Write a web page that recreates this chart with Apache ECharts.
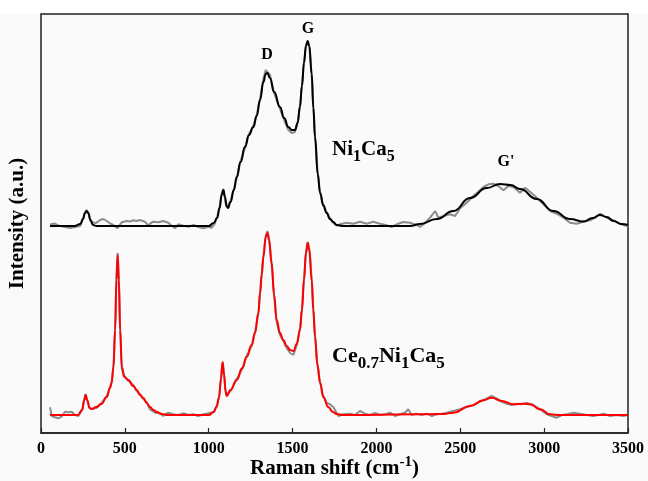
<!DOCTYPE html>
<html>
<head>
<meta charset="utf-8">
<script src="https://cdn.jsdelivr.net/npm/echarts@6/dist/echarts.min.js"></script>
<style>
  html, body { margin: 0; padding: 0; background: #fafafa; }
  #chart { width: 648px; height: 481px; }
</style>
</head>
<body>
<div id="chart"></div>
<script>
// Raman spectra of two catalysts, stacked vertically (raw scan in grey, fitted curve on top)

// x-axis ticks
const shiftTicks = [0, 500, 1000, 1500, 2000, 2500, 3000, 3500];

// Ni1Ca5 — fitted curve
const niFitShift = [54, 200, 235, 250, 262, 272, 282, 295, 310, 330, 1000, 1030, 1050, 1065, 1077, 1087, 1097, 1106, 1115, 1130, 1150, 1167, 1190, 1216, 1240, 1266, 1286, 1306, 1326, 1340, 1350, 1365, 1390, 1425, 1450, 1475, 1495, 1514, 1530, 1544, 1556, 1568, 1580, 1590, 1600, 1614, 1624, 1634, 1650, 1664, 1683, 1703, 1723, 1743, 1763, 1800, 2200, 2260, 2360, 2459, 2558, 2658, 2737, 2800, 2856, 2956, 3055, 3154, 3234, 3290, 3333, 3373, 3413, 3460, 3500];
const niFit = [0, 0, 2, 7, 13, 15, 13, 6, 1, 0, 0, 3, 8, 18, 31, 36, 29, 20, 18, 24, 36, 49, 64, 79, 91, 99, 110, 126, 144, 152, 153, 148, 134, 119, 108, 99, 96, 96, 103, 119, 140, 163, 180, 185, 180, 152, 118, 89, 52, 33, 21, 13, 7, 4, 1, 0, 0, 2, 7, 15, 28, 38, 42, 41, 37, 27, 15, 7, 4.5, 8, 11, 9, 5, 2, 1];

// Ni1Ca5 — measured scan
const niRawShift = [54, 64, 83, 103, 113, 143, 173, 203, 233, 250, 262, 272, 282, 295, 322, 337, 352, 372, 392, 411, 431, 455, 481, 511, 530, 551, 570, 590, 620, 640, 655, 670, 700, 729, 759, 779, 799, 819, 849, 879, 909, 938, 968, 998, 1018, 1035, 1050, 1065, 1077, 1087, 1097, 1106, 1115, 1130, 1150, 1167, 1190, 1216, 1240, 1266, 1286, 1306, 1326, 1340, 1350, 1365, 1390, 1425, 1450, 1475, 1495, 1514, 1530, 1544, 1556, 1568, 1580, 1590, 1600, 1614, 1624, 1634, 1650, 1664, 1683, 1703, 1723, 1743, 1763, 1783, 1823, 1862, 1902, 1942, 1982, 2021, 2061, 2091, 2121, 2161, 2200, 2240, 2260, 2290, 2320, 2350, 2370, 2400, 2439, 2469, 2499, 2538, 2578, 2608, 2638, 2668, 2698, 2727, 2757, 2787, 2817, 2856, 2886, 2916, 2956, 2996, 3035, 3075, 3115, 3154, 3194, 3234, 3274, 3304, 3333, 3373, 3413, 3453, 3492, 3500];
const niRaw = [1.5, 0.5, 2.5, 0.5, 0, -1, -2, -1, 0, 7, 13, 16, 13, 5, 2.7, 4, 6, 7, 5, 2.7, 1, -2.3, 3.7, 5, 4.5, 5.7, 5, 6, 4.3, 0.3, 3, 4.3, 3.7, 5, 3.3, 0.3, -2.3, 1.7, 0.3, -0.7, 1, -1, -2.3, -0.7, -1.7, 2, 9, 19, 32, 37, 28, 19, 17, 25, 37, 48, 65, 78, 92, 100, 111, 127, 147, 156, 158, 151, 133, 117, 106, 96, 93, 94, 103, 120, 141, 164, 181, 184, 179, 151, 118, 88, 53, 34, 20, 14, 8, 3, 0.5, 1.7, 3.3, 2.3, 4.3, 2.3, 4.3, 2.3, 0.7, -1, 1.7, 4, 3.3, 1, -1, 3.3, 8.3, 15, 8.3, 10, 11.7, 10, 17.7, 23.3, 30, 34.3, 39, 41.7, 42.3, 40, 35.7, 40, 39, 33.3, 38.3, 34.3, 28.3, 21.7, 15, 12.3, 8.3, 3.3, 2.3, 4.3, 5.7, 8.3, 12.3, 8.3, 5.7, 2.3, 0, 0];

// Ce0.7Ni1Ca5 — fitted curve
const ceFitShift = [54, 220, 245, 258, 266, 275, 290, 302, 330, 360, 392, 411, 421, 432, 442, 450, 457, 464, 472, 482, 497, 521, 550, 571, 590, 610, 630, 650, 670, 690, 720, 760, 1000, 1030, 1047, 1062, 1072, 1083, 1092, 1100, 1107, 1130, 1167, 1200, 1226, 1256, 1276, 1296, 1306, 1316, 1326, 1340, 1350, 1360, 1375, 1390, 1405, 1425, 1445, 1465, 1485, 1505, 1525, 1544, 1556, 1568, 1580, 1590, 1600, 1614, 1624, 1634, 1648, 1664, 1683, 1713, 1740, 1763, 1800, 2400, 2459, 2558, 2638, 2687, 2747, 2817, 2876, 2916, 2976, 3035, 3095, 3500];
const ceFit = [0, 0, 5, 15, 20, 15, 7, 6, 8, 11, 18, 27, 32, 48, 85, 135, 160, 135, 85, 48, 38, 35, 29, 25, 20, 17, 12, 8, 5, 3, 1, 0, 0, 3, 8, 18, 35, 53, 40, 24, 19, 25, 35, 47, 58, 70, 82, 102, 122, 140, 158, 178, 182, 175, 152, 120, 95, 82, 75, 69, 65, 64, 71, 85, 105, 135, 162, 172, 165, 135, 105, 78, 50, 32, 18, 8, 3, 1, 0, 1, 2.3, 9, 14.7, 17.3, 14, 10.7, 11.3, 10.7, 5.7, 0.7, 0, 0];

// Ce0.7Ni1Ca5 — measured scan
const ceRawShift = [54, 64, 83, 103, 123, 143, 163, 183, 203, 223, 245, 258, 266, 275, 290, 302, 330, 360, 392, 411, 421, 432, 442, 450, 457, 464, 472, 482, 497, 521, 550, 571, 590, 610, 630, 650, 680, 709, 729, 759, 789, 819, 849, 879, 909, 938, 968, 998, 1028, 1047, 1062, 1072, 1083, 1092, 1100, 1107, 1130, 1167, 1200, 1226, 1256, 1276, 1296, 1306, 1316, 1326, 1340, 1350, 1360, 1375, 1390, 1405, 1425, 1445, 1465, 1485, 1505, 1525, 1544, 1556, 1568, 1580, 1590, 1600, 1614, 1624, 1634, 1648, 1664, 1683, 1703, 1723, 1743, 1773, 1803, 1842, 1872, 1902, 1932, 1962, 1992, 2021, 2051, 2081, 2111, 2141, 2170, 2190, 2210, 2240, 2270, 2300, 2330, 2359, 2389, 2419, 2459, 2499, 2538, 2578, 2618, 2658, 2687, 2717, 2747, 2777, 2807, 2837, 2866, 2896, 2936, 2976, 3015, 3045, 3075, 3105, 3135, 3175, 3214, 3254, 3294, 3324, 3354, 3393, 3433, 3473, 3500];
const ceRaw = [7.7, -1, -2.3, -3.3, -1.7, 3.3, 2.7, 3.3, 0, -1, 5, 15, 21, 15, 7, 6, 7, 12, 19, 27, 33, 49, 88, 140, 162, 137, 85, 46, 39, 34, 30, 24, 21, 16, 13, 5.7, 2.3, 1.7, -1, 2.3, 0.7, 0, 1.7, 0, 0.7, -1, 0.7, 1.7, 2.7, 9, 18, 34, 52, 40, 24, 20, 24, 36, 46, 59, 69, 83, 101, 121, 141, 159, 179, 184, 176, 151, 119, 93, 80, 74, 67, 62, 60, 70, 86, 106, 136, 163, 173, 166, 136, 104, 79, 51, 33, 19, 12, 10.7, 8, -1, 0.7, 1.3, 0, 4, 1.3, 0, 2, 0, 0.7, 2.3, -1, 0.7, 2.3, 5.7, 0, 1.3, 0, 1.3, -1, 0.7, 1.3, 2.3, 4, 5.7, 8, 10, 13.3, 16.7, 19, 16.7, 13.3, 11.3, 10, 11.3, 10.7, 12, 10, 5.7, 0.7, -1, -2.7, 0, 0.7, 2.3, 1.3, 0, -1, 0, 1.3, -1, 0, -1, 0];

// vertical offsets that stack the two spectra
const niOffset = 207;
const ceOffset = 18;

const serif = '"Liberation Serif", "Times New Roman", serif';

function pairs(xs, ys, offset) {
  return xs.map((x, i) => [x, ys[i] + offset]);
}

const chart = echarts.init(document.getElementById('chart'), null, { renderer: 'canvas' });

const rawStyle = { color: '#8c8c8c', width: 2 };

chart.setOption({
  backgroundColor: '#fafafa',
  animation: false,
  grid: {
    left: 41, right: 20, top: 14, bottom: 48,
    outerBoundsMode: 'none', containLabel: false,
    show: true, borderColor: '#222', borderWidth: 1.5, backgroundColor: 'transparent'
  },
  xAxis: {
    type: 'value',
    min: shiftTicks[0],
    max: shiftTicks[shiftTicks.length - 1],
    interval: 500,
    axisLine: { show: true, onZero: false, lineStyle: { color: '#222', width: 1.5 } },
    axisTick: { show: true, inside: true, length: 5, lineStyle: { color: '#222', width: 1.2 } },
    splitLine: { show: false },
    axisLabel: { color: '#000', fontFamily: serif, fontWeight: 'bold', fontSize: 16, margin: 8, formatter: v => String(v) },
    name: '{t|Raman shift (cm}{p|-1}{t|)}',
    nameLocation: 'middle',
    nameGap: 22,
    nameMoveOverlap: false,
    nameTextStyle: {
      rich: {
        t: { fontFamily: serif, fontWeight: 'bold', fontSize: 21, color: '#000', verticalAlign: 'bottom', lineHeight: 24 },
        p: { fontFamily: serif, fontWeight: 'bold', fontSize: 15, color: '#000', verticalAlign: 'top', lineHeight: 15 }
      }
    }
  },
  yAxis: {
    type: 'value',
    min: 0,
    max: 419,
    axisLine: { show: false },
    axisTick: { show: false },
    axisLabel: { show: false },
    splitLine: { show: false },
    name: 'Intensity (a.u.)',
    nameLocation: 'middle',
    nameGap: 13,
    nameRotate: 90,
    nameMoveOverlap: false,
    nameTextStyle: { fontFamily: serif, fontWeight: 'bold', fontSize: 21, color: '#000' }
  },
  series: [
    { type: 'line', name: 'Ni1Ca5 raw', data: pairs(niRawShift, niRaw, niOffset), showSymbol: false, lineStyle: rawStyle, z: 2 },
    { type: 'line', name: 'Ni1Ca5 fit', data: pairs(niFitShift, niFit, niOffset), showSymbol: false, smooth: 0.5, smoothMonotone: 'x', lineStyle: { color: '#000', width: 2 }, z: 3 },
    { type: 'line', name: 'Ce0.7Ni1Ca5 raw', data: pairs(ceRawShift, ceRaw, ceOffset), showSymbol: false, lineStyle: rawStyle, z: 2 },
    { type: 'line', name: 'Ce0.7Ni1Ca5 fit', data: pairs(ceFitShift, ceFit, ceOffset), showSymbol: false, smooth: 0.5, smoothMonotone: 'x', lineStyle: { color: '#ff0000', width: 2 }, z: 3 }
  ],
  graphic: [
    { type: 'rect', shape: { x: 0, y: 0, width: 648, height: 13 }, style: { fill: '#ffffff' }, z: -1, silent: true },
    { type: 'text', x: 267, y: 55, style: { text: 'D', font: 'bold 16px ' + serif, fill: '#000', align: 'center', verticalAlign: 'middle' } },
    { type: 'text', x: 308, y: 29, style: { text: 'G', font: 'bold 16px ' + serif, fill: '#000', align: 'center', verticalAlign: 'middle' } },
    { type: 'text', x: 506, y: 162, style: { text: "G'", font: 'bold 16px ' + serif, fill: '#000', align: 'center', verticalAlign: 'middle' } },
    {
      type: 'text', x: 332, y: 139,
      style: {
        text: '{m|Ni}{s|1}{m|Ca}{s|5}',
        rich: {
          m: { fontFamily: serif, fontWeight: 'bold', fontSize: 21, fill: '#000', verticalAlign: 'top', lineHeight: 21 },
          s: { fontFamily: serif, fontWeight: 'bold', fontSize: 16, fill: '#000', verticalAlign: 'top', lineHeight: 16, padding: [10, 0, 0, 0] }
        }
      }
    },
    {
      type: 'text', x: 332, y: 345,
      style: {
        text: '{m|Ce}{s|0.7}{m|Ni}{s|1}{m|Ca}{s|5}',
        rich: {
          m: { fontFamily: serif, fontWeight: 'bold', fontSize: 22, fill: '#000', verticalAlign: 'top', lineHeight: 22 },
          s: { fontFamily: serif, fontWeight: 'bold', fontSize: 17, fill: '#000', verticalAlign: 'top', lineHeight: 17, padding: [10, 0, 0, 0] }
        }
      }
    }
  ]
});
</script>
</body>
</html>
